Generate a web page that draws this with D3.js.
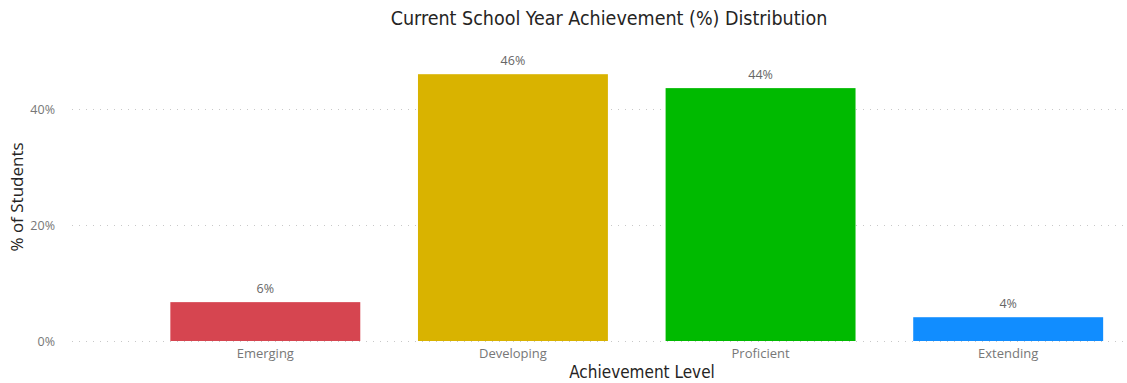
<!DOCTYPE html>
<html>
    <head>
        <meta charset="utf-8">
        <script src="https://d3js.org/d3.v7.min.js"></script>
        <style>
            body { margin: 0; background: #fff; }
        </style>
    </head>
    <body>
        <div id="my_dataviz"></div>
        <script>

            // chart data
            var categories = ["Emerging", "Developing", "Proficient", "Extending"];
            var values = [6.7, 46.0, 43.6, 4.1];
            var valueLabels = ["6%", "46%", "44%", "4%"];
            var barColors = ["#D64550", "#D9B300", "#00BA00", "#118DFF"];
            var yTicks = [0, 20, 40];

            var width = 1127,
                height = 383;

            var svg = d3.select("#my_dataviz")
                .append("svg")
                    .attr("width", width)
                    .attr("height", height);

            // scales
            var x = d3.scaleBand()
                .domain(categories)
                .range([141.5, 1132])
                .paddingInner(0.233)
                .paddingOuter(0.1165);

            var y = d3.scaleLinear()
                .domain([0, 40])
                .range([341, 109]);

            // dotted gridlines
            svg.selectAll(".grid")
                .data(yTicks)
                .join("line")
                    .attr("x1", 72)
                    .attr("x2", width)
                    .attr("y1", function(d) { return Math.round(y(d)) + 0.5 })
                    .attr("y2", function(d) { return Math.round(y(d)) + 0.5 })
                    .attr("stroke", "#c8c8c8")
                    .attr("stroke-width", 1)
                    .attr("stroke-dasharray", "1,6");

            // y axis
            var yAxis = svg.append("g")
                .attr("transform", "translate(58,0)")
                .call(d3.axisLeft(y).tickValues(yTicks).tickSize(0).tickFormat(function(d) { return d + "%" }));
            yAxis.select(".domain").remove();
            yAxis.selectAll("text")
                .attr("fill", "#777")
                .style("font-family", "'Open Sans', 'Noto Sans', sans-serif")
                .style("font-size", "12.5px");

            // bars
            svg.selectAll("mySlices")
                .data(values)
                .join("rect")
                    .attr("x", function(d, i) { return x(categories[i]) })
                    .attr("width", x.bandwidth())
                    .attr("y", function(d) { return y(d) })
                    .attr("height", function(d) { return y(0) - y(d) })
                    .attr("fill", function(d, i) { return barColors[i] });

            // value labels
            svg.selectAll("myLabels")
                .data(values)
                .join("text")
                    .attr("x", function(d, i) { return x(categories[i]) + x.bandwidth() / 2 })
                    .attr("y", function(d) { return y(d) - 9 })
                    .attr("text-anchor", "middle")
                    .attr("fill", "#666")
                    .style("font-family", "'Open Sans', 'Noto Sans', sans-serif")
                    .style("font-size", "12.5px")
                    .text(function(d, i) { return valueLabels[i] });

            // x axis
            var xAxis = svg.append("g")
                .attr("transform", "translate(0,341)")
                .call(d3.axisBottom(x).tickSize(0).tickPadding(8));
            xAxis.select(".domain").remove();
            xAxis.selectAll("text")
                .attr("fill", "#777")
                .style("font-family", "'Open Sans', 'Noto Sans', sans-serif")
                .style("font-size", "13px");

            // titles
            svg.append("text")
                .attr("x", 609)
                .attr("y", 25)
                .attr("text-anchor", "middle")
                .attr("fill", "#252423")
                .style("font-family", "'Liberation Sans Narrow', 'DejaVu Sans Condensed', sans-serif")
                .style("font-size", "19.5px")
                .text("Current School Year Achievement (%) Distribution");

            svg.append("text")
                .attr("x", 642)
                .attr("y", 378)
                .attr("text-anchor", "middle")
                .attr("fill", "#252423")
                .style("font-family", "'Liberation Sans Narrow', 'DejaVu Sans Condensed', sans-serif")
                .style("font-size", "17px")
                .text("Achievement Level");

            svg.append("text")
                .attr("transform", "translate(23,197) rotate(-90)")
                .attr("text-anchor", "middle")
                .attr("fill", "#252423")
                .style("font-family", "'Open Sans', 'Noto Sans', sans-serif")
                .style("font-size", "17px")
                .text("% of Students");
        </script>
    </body>
</html>
